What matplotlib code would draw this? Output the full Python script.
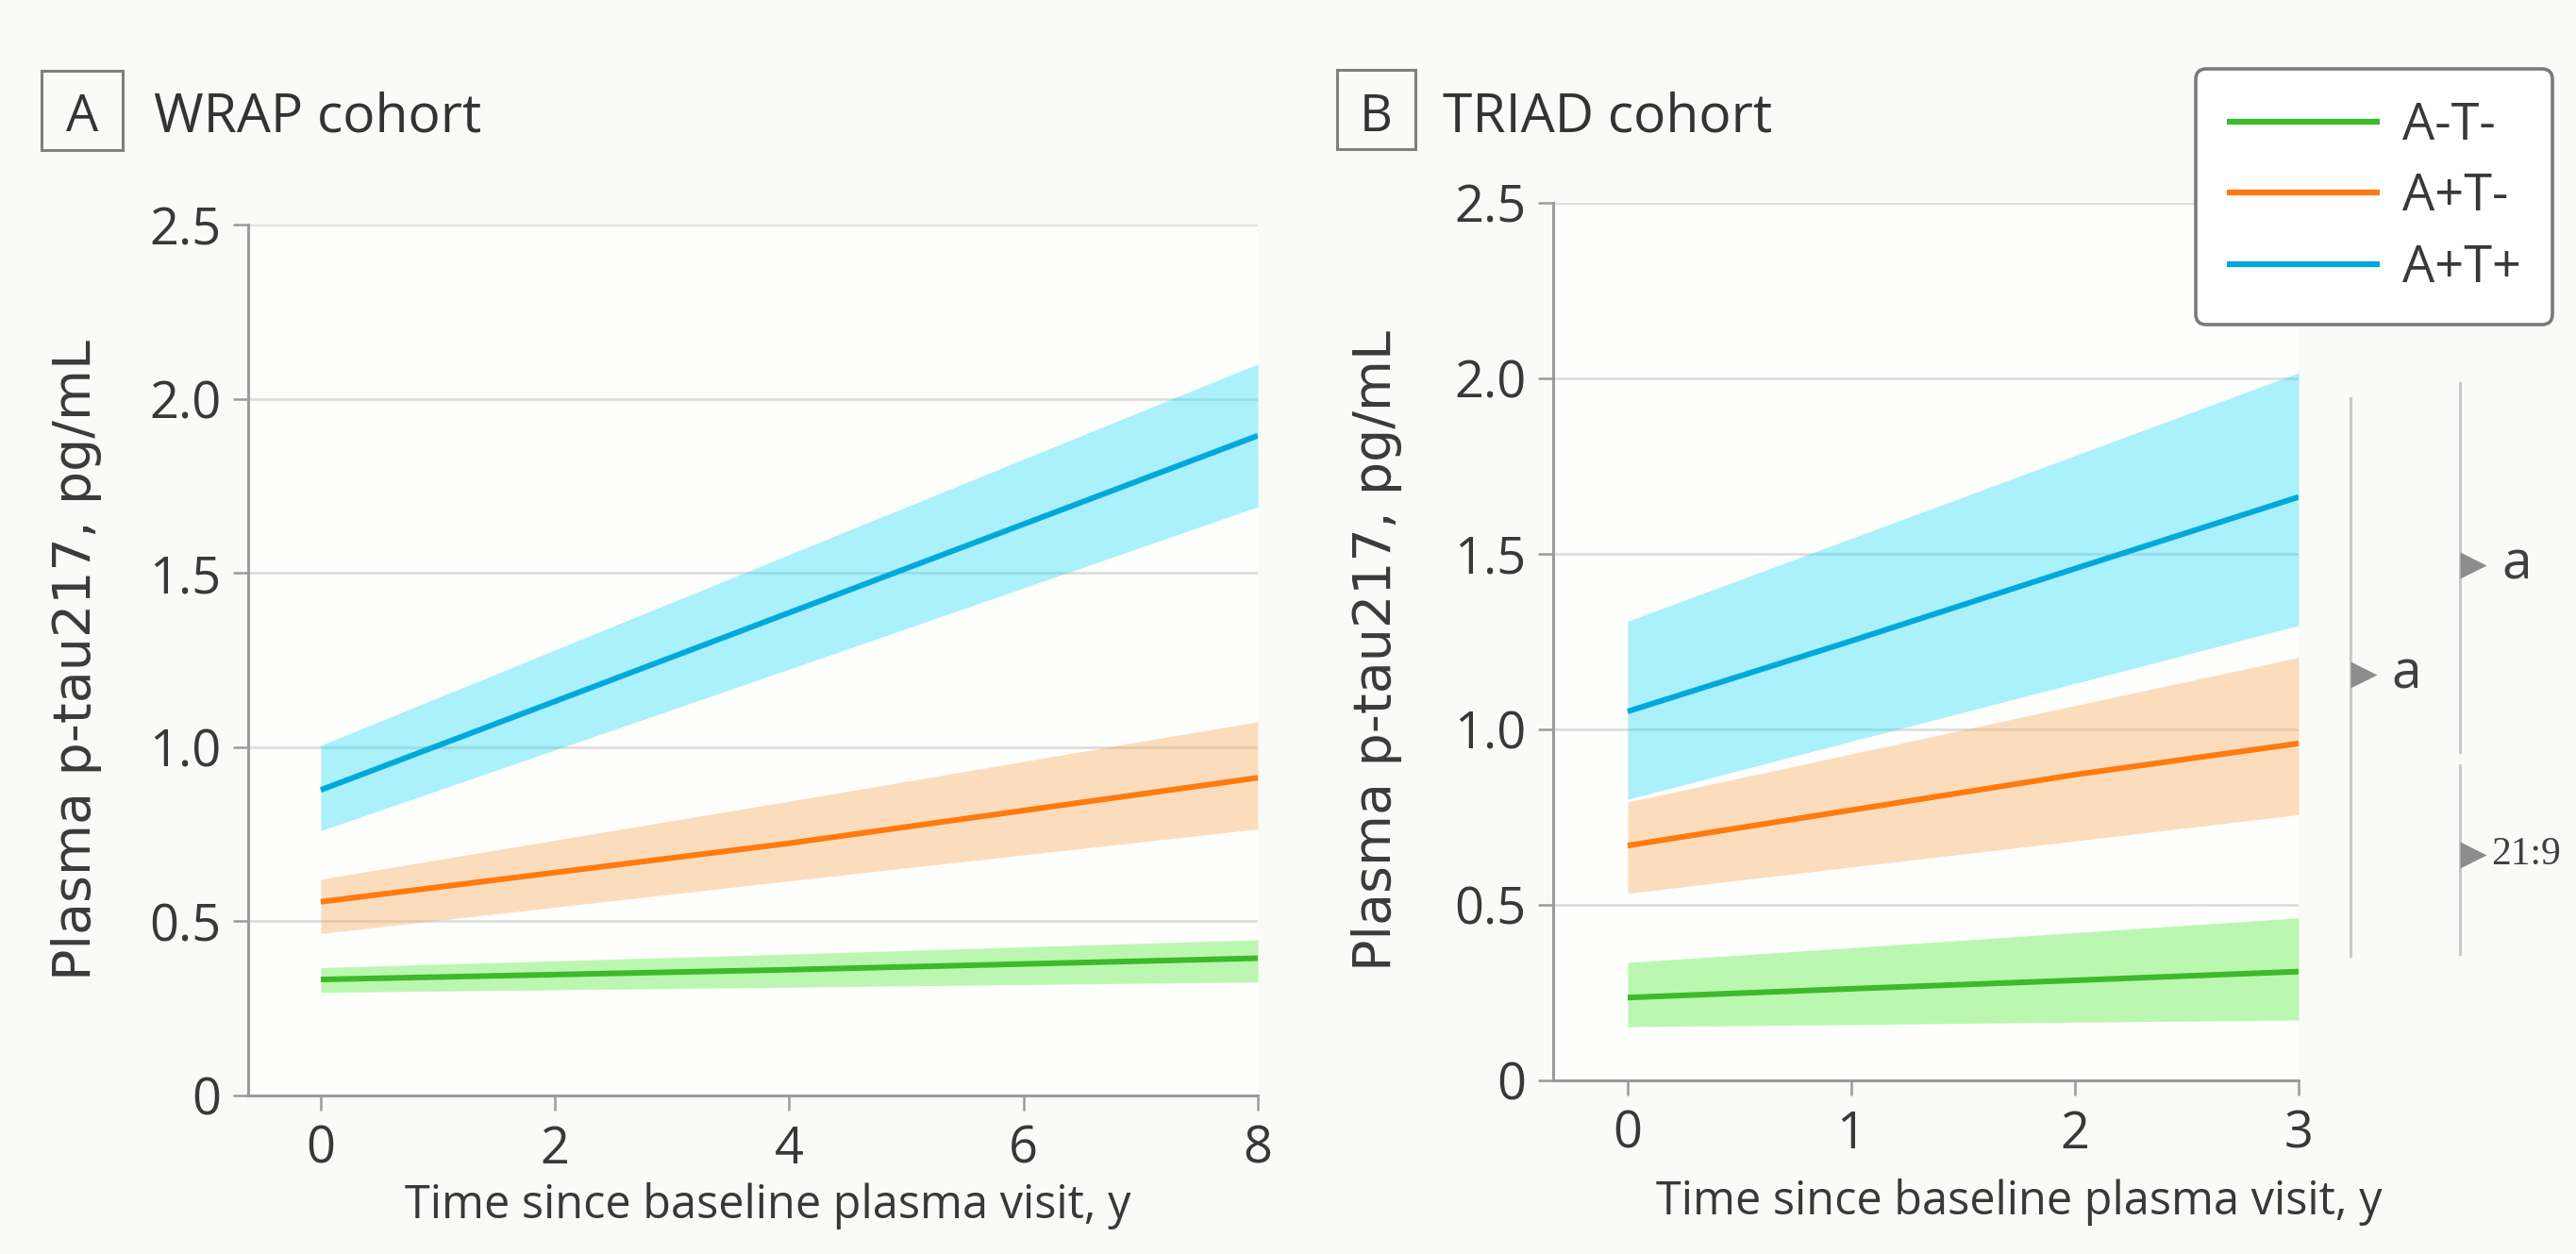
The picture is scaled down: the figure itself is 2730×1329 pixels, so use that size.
import matplotlib
matplotlib.use("Agg")
import matplotlib.pyplot as plt
import matplotlib.transforms as mtransforms
from matplotlib.patches import Rectangle

plt.rcParams['font.family'] = ['Open Sans', 'DejaVu Sans']

# ---------------- data ----------------
groups = ["A-T-", "A+T-", "A+T+"]

# WRAP cohort (panel A)
wrap_t = [0, 4, 8]
wrap_neg_mean = [0.333, 0.361, 0.394]
wrap_neg_lo = [0.296, 0.311, 0.326]
wrap_neg_hi = [0.367, 0.406, 0.447]
wrap_apt_mean = [0.556, 0.724, 0.912]
wrap_apt_lo = [0.465, 0.616, 0.765]
wrap_apt_hi = [0.621, 0.845, 1.073]
wrap_pos_mean = [0.877, 1.386, 1.894]
wrap_pos_lo = [0.760, 1.224, 1.690]
wrap_pos_hi = [1.005, 1.553, 2.100]

# TRIAD cohort (panel B)
triad_t = [0, 1, 2, 3]
triad_neg_mean = [0.236, 0.261, 0.285, 0.310]
triad_neg_lo = [0.153, 0.159, 0.166, 0.172]
triad_neg_hi = [0.336, 0.378, 0.421, 0.463]
triad_apt_mean = [0.669, 0.770, 0.871, 0.960]
triad_apt_lo = [0.533, 0.608, 0.682, 0.757]
triad_apt_hi = [0.793, 0.930, 1.068, 1.205]
triad_pos_mean = [1.051, 1.252, 1.458, 1.662]
triad_pos_lo = [0.801, 0.966, 1.131, 1.296]
triad_pos_hi = [1.308, 1.544, 1.780, 2.016]

y_ticks = [0, 0.5, 1.0, 1.5, 2.0, 2.5]
y_ticklabels = ["0", "0.5", "1.0", "1.5", "2.0", "2.5"]
wrap_xticks = [0, 2, 4, 6, 8]
triad_xticks = [0, 1, 2, 3]

# significance brackets (panel B), y spans in data units
inner_bracket = [0.355, 1.944]
outer_bracket_upper = [0.935, 1.987]
outer_bracket_lower = [0.360, 0.898]
inner_label_y = 1.157
outer_upper_label_y = 1.468
outer_lower_label_y = 0.642
inner_label = "a"
outer_upper_label = "a"
outer_lower_label = "21:9"

# ---------------- style ----------------
line_colors = ['#3cba2a', '#ff7a10', '#00a9dc']
fill_colors = ['#5aee40', '#f7a24a', '#00d8f7']
fill_alphas = [0.40, 0.35, 0.33]
W, H = 2730, 1329
BG = '#fafaf8'

fig = plt.figure(figsize=(W / 100, H / 100), dpi=100, facecolor=BG)
axA = fig.add_axes([263 / W, 1 - 1161 / H, (1333 - 263) / W, (1161 - 238) / H])
axB = fig.add_axes([1646 / W, 1 - 1145 / H, (2436 - 1646) / W, (1145 - 215) / H])


def style(ax, xlim, xticks):
    ax.set_facecolor('#fefefd')
    ax.set_xlim(xlim)
    ax.set_ylim(0, 2.5)
    ax.set_xticks(xticks)
    ax.set_xticklabels([str(v) for v in xticks])
    ax.set_yticks(y_ticks)
    ax.set_yticklabels(y_ticklabels)
    for s in ['top', 'right']:
        ax.spines[s].set_visible(False)
    for s in ['left', 'bottom']:
        ax.spines[s].set_color('#9b9b9b')
        ax.spines[s].set_linewidth(2.2)
    ax.tick_params(length=11.5, width=1.8, color='#9b9b9b', labelsize=39,
                   labelcolor='#383838')
    ax.tick_params(axis='x', pad=10)
    ax.tick_params(axis='y', pad=9)
    ax.yaxis.grid(True, color='#dedede', lw=2)
    ax.set_axisbelow(True)


def draw(ax, t, means, los, his):
    handles = []
    for m, lo, hi, lc, fc, fa, g in zip(means, los, his, line_colors, fill_colors,
                                         fill_alphas, groups):
        ax.fill_between(t, lo, hi, color=fc, alpha=fa, lw=0, zorder=2)
        h, = ax.plot(t, m, color=lc, lw=4.3, solid_capstyle='butt', zorder=3, label=g)
        handles.append(h)
    return handles


handles = draw(axA, wrap_t,
               [wrap_neg_mean, wrap_apt_mean, wrap_pos_mean],
               [wrap_neg_lo, wrap_apt_lo, wrap_pos_lo],
               [wrap_neg_hi, wrap_apt_hi, wrap_pos_hi])
draw(axB, triad_t,
     [triad_neg_mean, triad_apt_mean, triad_pos_mean],
     [triad_neg_lo, triad_apt_lo, triad_pos_lo],
     [triad_neg_hi, triad_apt_hi, triad_pos_hi])

style(axA, (-0.62, 8), wrap_xticks)
style(axB, (-0.333, 3), triad_xticks)

for ax, xc, xb, yc, yb in [(axA, -0.170, 0.515, 0.50, -0.1408),
                           (axB, -0.237, 0.625, 0.49, -0.1527)]:
    ax.set_ylabel("Plasma p-tau217, pg/mL", family=['DejaVu Sans'], fontsize=40,
                  color='#3a3a3a')
    ax.yaxis.set_label_coords(xc, yc)
    ax.yaxis.label.set_va('center')
    ax.set_xlabel("Time since baseline plasma visit, y", fontsize=35, color='#383838')
    ax.xaxis.set_label_coords(xb, yb)
    ax.xaxis.label.set_va('baseline')

# panel titles with boxed letters
for (x0, y0, x1, y1), letter, title, tx in [((44, 75, 130, 159), "A", "WRAP cohort", 163),
                                            ((1417, 74, 1500, 158), "B", "TRIAD cohort", 1529)]:
    fig.add_artist(Rectangle((x0 / W, 1 - y1 / H), (x1 - x0) / W, (y1 - y0) / H,
                             transform=fig.transFigure, fill=False,
                             edgecolor='#7f7f7f', lw=2.2))
    fig.text((x0 + x1) / 2 / W, 1 - 139 / H, letter, ha='center', va='baseline',
             fontsize=39, color='#333333')
    fig.text(tx / W, 1 - 139 / H, title, ha='left', va='baseline',
             fontsize=41, color='#333333')

# legend
leg = fig.legend(handles, groups, loc='upper right',
                 bbox_to_anchor=(2705 / W, 1 - 73 / H), fontsize=39,
                 handlelength=3.0, handletextpad=0.45, labelspacing=0.38,
                 borderpad=0.6, borderaxespad=0, frameon=True, fancybox=True,
                 edgecolor='#7a7a7a', facecolor='white', framealpha=1)
leg.get_frame().set_linewidth(2.6)
for txt in leg.get_texts():
    txt.set_color('#383838')
for lh in leg.get_lines():
    lh.set_linewidth(4.5)

# significance brackets on panel B
tr = mtransforms.blended_transform_factory(axB.transAxes, axB.transData)
br_color = '#c9c9c9'
axB.plot([1.070, 1.070], inner_bracket, transform=tr, color=br_color, lw=2.2, clip_on=False)
axB.plot([1.2165, 1.2165], outer_bracket_upper, transform=tr, color=br_color, lw=2.2, clip_on=False)
axB.plot([1.2165, 1.2165], outer_bracket_lower, transform=tr, color=br_color, lw=2.2, clip_on=False)
for xm, ym in [(1.087, inner_label_y), (1.234, outer_upper_label_y), (1.234, outer_lower_label_y)]:
    axB.plot([xm], [ym], marker='>', ms=20, color='#8c8c8c', mec='none',
             transform=tr, clip_on=False)
axB.text(1.124, inner_label_y, inner_label, transform=tr, fontsize=41,
         color='#404040', va='center', ha='left')
axB.text(1.272, outer_upper_label_y, outer_upper_label, transform=tr, fontsize=41,
         color='#404040', va='center', ha='left')
axB.text(1.259, outer_lower_label_y, outer_lower_label, transform=tr, fontsize=30,
         family=['Liberation Serif', 'DejaVu Serif'], color='#404040',
         va='center', ha='left')

fig.savefig("out.png", dpi=100, facecolor=fig.get_facecolor())
